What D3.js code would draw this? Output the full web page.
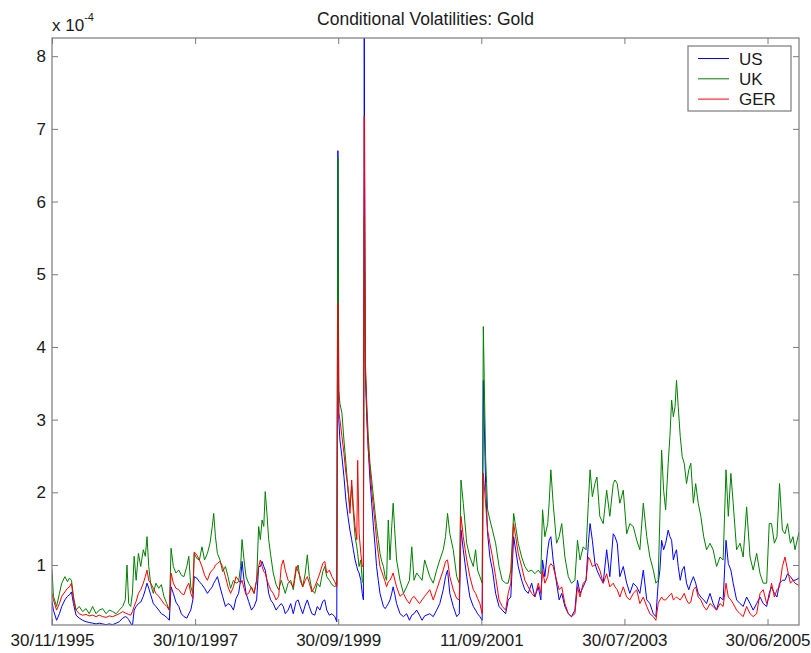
<!DOCTYPE html>
<html>
<head>
<meta charset="utf-8">
<script src="https://cdn.jsdelivr.net/npm/d3@7"></script>
<style>
  html, body { margin: 0; padding: 0; background: #fff; }
  svg { display: block; }
  text { font-family: "Liberation Sans", Arial, Helvetica, sans-serif; fill: #1a1a1a; }
</style>
</head>
<body>
<svg id="chart" width="811" height="653"></svg>
<script>
// ---- data (values in units of 1e-4), x = observation number (trading days) ----
const obs = [0,5,16,26,34,45,54,61,68,75,84,95,107,119,130,142,154,165,177,189,200,212,224,235,247,256,262,268,275,281,287,294,302,310,319,326,332,338,345,354,363,373,382,391,401,410,416,424,433,443,452,461,471,478,485,492,497,506,515,524,533,543,552,560,565,571,578,587,596,606,615,624,634,643,652,659,664,671,678,687,697,706,715,722,728,734,740,745,751,757,764,773,783,792,801,808,815,825,834,843,853,860,867,876,885,892,899,908,918,927,936,946,953,960,969,978,988,995,999,1002,1006,1013,1020,1027,1034,1041,1047,1053,1059,1065,1068,1073,1079,1084,1088,1091,1095,1100,1105,1111,1117,1123,1129,1134,1140,1146,1152,1158,1164,1169,1175,1181,1187,1192,1198,1204,1216,1228,1239,1249,1257,1265,1274,1284,1293,1302,1320,1332,1344,1355,1367,1375,1382,1390,1402,1414,1423,1429,1437,1449,1460,1472,1480,1487,1495,1503,1507,1515,1522,1530,1539,1550,1562,1573,1585,1594,1603,1613,1620,1629,1641,1652,1664,1676,1687,1699,1708,1714,1722,1732,1737,1743,1751,1763,1772,1781,1792,1804,1815,1827,1836,1845,1856,1866,1874,1880,1888,1897,1904,1914,1926,1938,1949,1961,1967,1975,1984,1996,2008,2019,2031,2043,2054,2066,2078,2089,2101,2110,2118,2124,2130,2137,2144,2153,2159,2165,2171,2177,2182,2188,2195,2202,2209,2217,2225,2232,2241,2249,2258,2267,2277,2287,2299,2310,2322,2334,2345,2355,2363,2372,2380,2392,2404,2415,2427,2439,2450,2462,2474,2485,2497,2506,2514,2524,2533,2542,2552,2561,2570,2580,2589,2596,2610];

const usVol = [.50,.38,.24,.33,.43,.52,.57,.59,.63,.47,.31,.27,.24,.22,.21,.20,.19,.20,.19,.18,.19,.18,.20,.22,.27,.29,.28,.25,.20,.16,.38,.43,.47,.49,.57,.66,.75,.68,.59,.47,.43,.38,.33,.31,.28,.24,.70,.61,.49,.43,.33,.29,.27,.33,.38,.52,.84,.82,.77,.73,.68,.61,.66,.70,.75,.79,.84,.70,.57,.43,.47,.45,.38,.54,.61,.79,1.05,.79,.61,.50,.38,.43,.52,.98,.98,1.05,.98,.93,.79,.61,.52,.47,.38,.43,.47,.43,.33,.38,.47,.33,.50,.52,.43,.33,.45,.52,.43,.33,.31,.43,.38,.50,.52,.38,.31,.33,.29,.22,6.70,3.00,2.72,2.49,2.22,1.89,1.67,1.48,1.35,1.21,1.07,.98,.93,.89,.79,.61,.52,8.25,3.60,3.00,2.60,2.17,1.85,1.53,1.25,.98,.79,.61,.52,.43,.40,.43,.47,.52,.61,.70,.59,.47,.33,.29,.33,.24,.31,.33,.38,.31,.24,.30,.33,.29,.38,.47,.66,.84,.93,.61,.43,.29,.33,1.48,1.21,.84,.56,.43,.38,.33,.29,.24,3.54,2.12,1.43,1.11,.93,.61,.43,.38,.33,.52,.56,1.39,1.21,.98,.79,.66,.61,.75,.56,.70,.52,1.07,.84,1.21,1.34,1.39,1.07,.75,.52,.61,.43,.33,.29,.38,.79,.61,.70,.79,1.30,1.57,1.34,1.02,.93,.84,.75,1.21,.84,1.43,1.39,1.30,.84,.98,.75,.61,.75,.70,.61,.93,.52,.47,.33,.29,.75,.93,1.34,1.21,1.30,1.48,1.39,1.34,1.07,1.16,1.21,.98,.79,.93,.98,.75,.66,.75,.84,.75,.61,.56,.52,.47,.61,.47,.38,.56,.52,1.34,1.02,.93,.75,.52,.47,.43,.56,.47,.38,.47,.56,.47,.43,.61,.70,.61,.56,.75,.79,.79,.88,.84,.79,.79,.82];

const ukVol = [.93,.57,.43,.61,.75,.84,.77,.82,.79,.57,.38,.43,.36,.40,.33,.43,.33,.38,.40,.33,.38,.36,.33,.38,.43,.52,1.00,.47,.43,.61,1.12,.79,1.16,.98,1.21,1.12,1.39,.98,.73,.61,.75,.68,.73,.57,.47,.38,1.23,.98,.89,.93,.86,.84,.98,1.12,.70,.61,1.16,1.09,1.07,1.25,1.07,1.16,1.30,1.53,1.71,1.39,1.16,1.07,.91,.98,.84,.68,.79,.75,.77,.98,1.35,1.07,.84,.75,.68,.61,.79,1.53,1.35,1.62,1.53,2.01,1.71,1.35,1.14,.89,.73,.66,.79,.70,.61,.75,.79,.66,.93,1.00,.79,.70,.89,1.14,.84,.66,.61,.75,.70,.91,.98,.84,.79,.73,.70,.73,6.60,3.40,3.22,3.09,2.72,2.40,2.03,1.80,2.08,1.71,1.39,1.25,1.16,.98,1.07,.79,.75,5.80,3.70,3.20,2.77,2.40,2.17,1.94,1.71,1.53,1.35,1.16,1.05,.98,.84,.79,1.62,1.07,1.53,1.85,1.44,1.07,.79,.61,.70,.79,1.25,.79,.89,.84,.79,1.07,.84,.75,.93,1.07,1.21,1.39,1.71,1.43,1.21,.84,.75,2.17,1.85,1.30,1.11,.98,1.21,.93,.84,.75,4.28,2.49,1.76,1.62,1.48,1.30,.98,.79,.75,.75,.93,1.71,1.53,1.30,1.11,.98,.91,.93,.88,.93,.88,1.76,1.39,1.57,1.85,2.31,1.85,1.30,1.39,1.57,1.11,.84,.75,.79,1.34,1.07,1.25,1.21,1.85,2.31,1.94,2.12,2.21,1.67,1.57,2.03,1.67,2.12,2.17,2.12,1.85,2.03,1.43,1.57,1.53,1.34,1.21,1.85,1.39,1.11,.93,.75,.79,1.67,2.58,2.03,1.76,2.40,2.77,3.27,3.04,3.18,3.54,3.18,2.77,2.49,2.40,2.12,2.31,2.40,1.85,2.12,1.85,1.67,1.39,1.21,1.30,1.21,.98,1.11,1.07,2.31,1.67,2.26,1.85,1.21,1.30,1.11,1.80,1.11,.93,1.16,.88,.75,.75,1.57,1.57,1.30,1.39,2.12,1.48,1.43,1.57,1.30,1.39,1.21,1.45];

const gerVol = [.61,.52,.38,.47,.57,.63,.68,.70,.75,.52,.38,.33,.31,.32,.30,.31,.29,.31,.29,.28,.30,.29,.31,.33,.36,.34,.33,.32,.31,.36,.43,.50,.61,.66,.75,.84,.93,.79,.75,.68,.61,.57,.52,.47,.43,.38,.89,.75,.68,.66,.61,.59,.70,.75,.61,.54,1.18,1.14,1.07,.98,.86,.79,.89,.93,.95,1.00,1.02,1.05,.98,.84,.70,.61,.70,.84,.79,.75,.79,.68,.59,.61,.70,.61,.79,.98,1.07,.98,.91,.89,.79,.73,.66,.61,.52,.57,.98,1.07,.93,.79,.75,.70,.98,.91,.84,.70,.79,.84,.75,.63,.70,.79,.89,1.02,1.05,.89,.93,.84,.77,.70,4.60,3.10,3.00,2.77,2.54,2.26,2.08,1.71,2.17,1.80,1.53,1.35,2.44,1.44,1.16,.98,.98,7.17,3.80,3.10,2.60,2.31,2.03,1.80,1.57,1.35,1.16,.98,.91,.84,.77,.70,.77,.79,.84,.89,.79,.70,.57,.61,.52,.47,.54,.57,.52,.47,.52,.57,.66,.52,.66,.79,.93,1.05,1.07,.84,.66,.54,.52,1.67,1.39,1.07,.84,.66,.61,.54,.47,.33,2.26,1.85,1.48,1.30,1.11,.84,.52,.43,.38,.61,.75,1.57,1.39,1.16,.98,.79,.70,.61,.56,.75,.61,.93,.75,.84,.98,1.02,.98,.79,.66,.70,.47,.33,.29,.33,.70,.56,.75,.79,1.11,1.07,.98,1.00,1.02,.93,.75,.88,.70,.75,.70,.66,.56,.70,.56,.52,.61,.66,.47,.56,.43,.33,.29,.24,.47,.52,.56,.52,.52,.56,.59,.61,.52,.54,.56,.54,.52,.56,.61,.52,.47,.49,.66,.70,.56,.52,.43,.38,.47,.43,.38,.47,.43,.75,.56,.52,.47,.38,.33,.29,.43,.33,.29,.33,.61,.66,.47,.56,.75,.56,.66,.70,.98,1.11,.93,.75,.79,.75,.72];

const seriesNames = ["US", "UK", "GER"];
const seriesColors = ["#0000ff", "#008000", "#ff0000"];
const xTickObs = [0, 500, 1000, 1500, 2000, 2500];
const xTickLabels = ["30/11/1995", "30/10/1997", "30/09/1999", "11/09/2001", "30/07/2003", "30/06/2005"];
const yTicks = [1, 2, 3, 4, 5, 6, 7, 8];
const chartTitle = "Conditional Volatilities: Gold";

(function () {
  const allSeries = [usVol, ukVol, gerVol];
  if (allSeries.some(s => s.length !== obs.length)) {
    throw new Error("length mismatch: obs " + obs.length + " us " + usVol.length + " uk " + ukVol.length + " ger " + gerVol.length);
  }

  const W = 811, H = 653;
  const mL = 52, mR = 799, mT = 38, mB = 625;
  const svg = d3.select("#chart");
  svg.append("rect").attr("width", W).attr("height", H).attr("fill", "#fff");

  const x = d3.scaleLinear().domain([0, 2610]).range([mL, mR]);
  const y = d3.scaleLinear().domain([0.175, 8.25]).range([mB, mT]);

  svg.append("defs").append("clipPath").attr("id", "plotclip")
    .append("rect").attr("x", mL).attr("y", mT).attr("width", mR - mL).attr("height", mB - mT);

  const line = d3.line().x((d, i) => x(obs[i])).y(d => y(d));

  const plot = svg.append("g").attr("clip-path", "url(#plotclip)");
  allSeries.forEach((vals, k) => {
    plot.append("path").datum(vals)
      .attr("d", line)
      .attr("fill", "none")
      .attr("stroke", seriesColors[k])
      .attr("stroke-width", 1)
      .attr("stroke-linejoin", "round");
  });

  const axisColor = "#7a7a7a";
  const fontSize = 17;

  const gx = svg.append("g").attr("transform", `translate(0,${mB})`)
    .call(d3.axisBottom(x).tickValues(xTickObs).tickFormat((d, i) => xTickLabels[i])
      .tickSize(-6).tickSizeOuter(0).tickPadding(9));
  const gxt = svg.append("g").attr("transform", `translate(0,${mT})`)
    .call(d3.axisTop(x).tickValues(xTickObs).tickFormat("").tickSize(-6).tickSizeOuter(0));
  const gy = svg.append("g").attr("transform", `translate(${mL},0)`)
    .call(d3.axisLeft(y).tickValues(yTicks).tickFormat(d3.format("d"))
      .tickSize(-6).tickSizeOuter(0).tickPadding(6));
  const gyr = svg.append("g").attr("transform", `translate(${mR},0)`)
    .call(d3.axisRight(y).tickValues(yTicks).tickFormat("").tickSize(-6).tickSizeOuter(0));

  [gx, gxt, gy, gyr].forEach(g => {
    g.select(".domain").remove();
    g.selectAll(".tick line").attr("stroke", axisColor);
    g.selectAll(".tick text").attr("font-size", fontSize).attr("fill", "#1a1a1a")
      .attr("font-family", "'Liberation Sans', Arial, sans-serif");
  });

  svg.append("rect").attr("x", mL).attr("y", mT)
    .attr("width", mR - mL).attr("height", mB - mT)
    .attr("fill", "none").attr("stroke", axisColor).attr("stroke-width", 1.2);

  const expo = svg.append("text").attr("x", mL).attr("y", 30.5).attr("font-size", fontSize);
  expo.append("tspan").text("x 10");
  expo.append("tspan").attr("font-size", 11).attr("dy", -10).text("-4");

  svg.append("text").attr("x", (mL + mR) / 2).attr("y", 25)
    .attr("text-anchor", "middle").attr("font-size", 17.5).text(chartTitle);

  const lg = svg.append("g").attr("transform", "translate(688,46)");
  lg.append("rect").attr("width", 103).attr("height", 65)
    .attr("fill", "#fff").attr("stroke", axisColor).attr("stroke-width", 1.2);
  seriesNames.forEach((name, i) => {
    const cy = 12.5 + i * 20.3;
    lg.append("line").attr("x1", 10).attr("x2", 41).attr("y1", cy).attr("y2", cy)
      .attr("stroke", seriesColors[i]).attr("stroke-width", 1);
    lg.append("text").attr("x", 51).attr("y", cy + 6).attr("font-size", fontSize).text(name);
  });
})();
</script>
</body>
</html>
